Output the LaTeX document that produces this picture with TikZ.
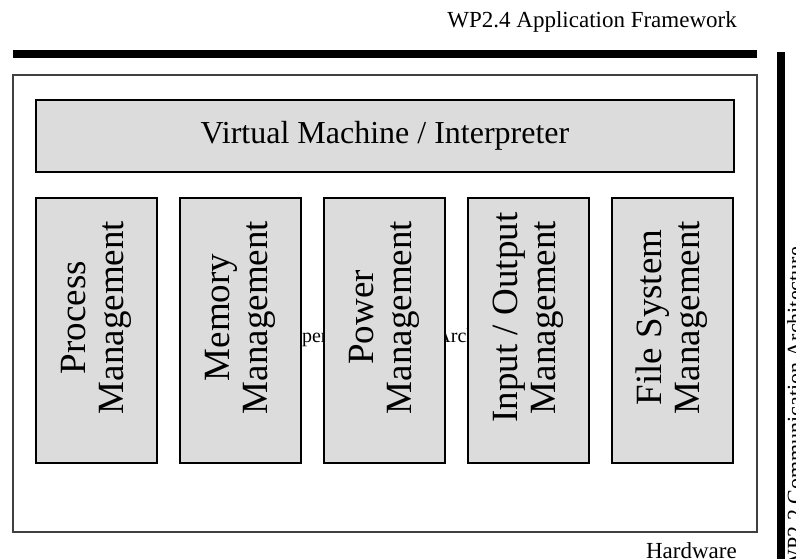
\documentclass[tikz,border=0pt]{standalone}
\usepackage{fontspec}
\setmainfont{Liberation Serif}
\usetikzlibrary{positioning}

\definecolor{boxgray}{HTML}{DCDCDC}
\definecolor{framegray}{HTML}{404040}

% two rotated lines inside a column box (set a little above the middle)
\newcommand{\vtext}[2]{\rotatebox{90}{\begin{tabular}{@{\hspace{26pt}}c@{}}#1\\#2\end{tabular}}}

\begin{document}
\begin{tikzpicture}[
    x=1pt, y=-1pt,
    node distance=23pt,
    layer/.style={rectangle, draw=black, line width=2pt, fill=boxgray, inner sep=0pt, outer sep=0pt, align=center},
    module/.style={layer, minimum width=121pt, minimum height=265pt, font=\fontsize{37}{38}\selectfont},
    frame/.style={rectangle, draw=framegray, line width=1.2pt, inner sep=0pt, outer sep=0pt},
    bar/.style={rectangle, fill=black, inner sep=0pt, outer sep=0pt},
    caption/.style={inner sep=0pt, font=\fontsize{23}{27}\selectfont},
]
\useasboundingbox (0,0) rectangle (796,559);

% outer frame with its (hidden) title
\node[frame, minimum width=744pt, minimum height=457pt] (osbox) at (385,303.5) {};
\node[inner sep=0pt, font=\fontsize{20}{24}\selectfont] (ostitle) at (412,338) {Operating System Architecture};

% bars and their captions
\node[bar, minimum width=744pt, minimum height=8pt, anchor=north west] (appbar) at (13,50) {};
\node[caption, anchor=base east] (applabel) at (737,28) {WP2.4 Application Framework};
\node[bar, minimum width=8pt, minimum height=520pt, anchor=north west] (commbar) at (777,52) {};
\node[caption, font=\fontsize{22}{26}\selectfont, rotate=90, anchor=north east] (commlabel) at (787,247) {WP2.2 Communication Architecture};
\node[caption, anchor=base east] (hwlabel) at (737,558) {Hardware};

% virtual machine layer
\node[layer, minimum width=698pt, minimum height=72pt, font=\fontsize{32}{38}\selectfont] (vm) at (385,136) {Virtual Machine / Interpreter};

% management modules
\node[module, anchor=north west] (proc) at (36,198) {\vtext{Process}{Management}};
\node[module, right=of proc] (mem)  {\vtext{Memory}{Management}};
\node[module, right=of mem]  (pow)  {\vtext{Power}{Management}};
\node[module, right=of pow]  (io)   {\vtext{Input / Output}{Management}};
\node[module, right=of io]   (fs)   {\vtext{File System}{Management}};

\end{tikzpicture}
\end{document}
